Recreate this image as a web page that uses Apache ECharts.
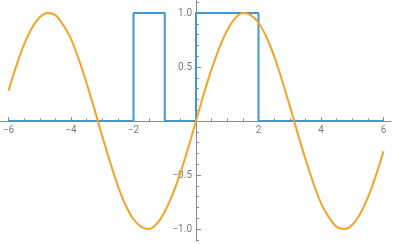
<!DOCTYPE html>
<html><head><meta charset="utf-8">
<script src="https://cdn.jsdelivr.net/npm/echarts@6/dist/echarts.min.js"></script>
<style>html,body{margin:0;padding:0;background:#fff}#c{width:393px;height:244px}</style>
</head><body><div id="c"></div>
<script>
// sine curve samples (x, y)
const sineX = [-6,-5.75,-5.5,-5.25,-5,-4.75,-4.5,-4.25,-4,-3.75,-3.5,-3.25,-3,-2.75,-2.5,-2.25,-2,-1.75,-1.5,-1.25,-1,-0.75,-0.5,-0.25,0,0.25,0.5,0.75,1,1.25,1.5,1.75,2,2.25,2.5,2.75,3,3.25,3.5,3.75,4,4.25,4.5,4.75,5,5.25,5.5,5.75,6];
const sineY = [0.28,0.51,0.71,0.86,0.96,1.00,0.98,0.89,0.76,0.57,0.35,0.11,-0.14,-0.38,-0.60,-0.78,-0.91,-0.98,-1.00,-0.95,-0.84,-0.68,-0.48,-0.25,0,0.25,0.48,0.68,0.84,0.95,1.00,0.98,0.91,0.78,0.60,0.38,0.14,-0.11,-0.35,-0.57,-0.76,-0.89,-0.98,-1.00,-0.96,-0.86,-0.71,-0.51,-0.28];
// step function vertices
const stepX = [-6,-2,-2,-1,-1,0,0,2,2,6];
const stepY = [0,0,1,1,0,0,1,1,0,0];
// ticks
const xLabels = [-6,-4,-2,2,4,6];
const xMinor = [-6,-5.5,-5,-4.5,-4,-3.5,-3,-2.5,-2,-1.5,-1,-0.5,0.5,1,1.5,2,2.5,3,3.5,4,4.5,5,5.5,6];
const yLabels = [-1,-0.5,0.5,1];
const yMinor = [-1.1,-1,-0.9,-0.8,-0.7,-0.6,-0.5,-0.4,-0.3,-0.2,-0.1,0.1,0.2,0.3,0.4,0.5,0.6,0.7,0.8,0.9,1,1.1];

const fmtY = v => (v < 0 ? '\u2212' : '') + Math.abs(v).toFixed(1);
const fmtX = v => (v < 0 ? '\u2212' : '') + Math.abs(v);

const axisColor = '#8a8a8a';
const labelStyle = {color: '#7a7a7a', fontSize: 10, fontFamily: 'Roboto, sans-serif'};
const XMIN = -6.272, XMAX = 6.24, YMIN = -1.1111, YMAX = 1.1204;
const X_OFF = -120, Y_OFF = -196;

const chart = echarts.init(document.getElementById('c'), null, {renderer: 'canvas'});
chart.setOption({
  animation: false,
  grid: {left: 0, right: 2, top: 0, bottom: 3, containLabel: false, outerBoundsMode: 'none'},
  xAxis: [
    {type: 'value', position: 'bottom', offset: X_OFF, min: XMIN, max: XMAX, splitLine: {show: false},
     axisLine: {onZero: false, lineStyle: {color: axisColor, width: 1}},
     axisTick: {inside: true, length: 4, customValues: xLabels, lineStyle: {color: axisColor}},
     axisLabel: {customValues: xLabels, formatter: fmtX, margin: 4, ...labelStyle}},
    {type: 'value', position: 'bottom', offset: X_OFF, min: XMIN, max: XMAX, splitLine: {show: false},
     axisLine: {show: false, onZero: false},
     axisTick: {inside: true, length: 2.5, customValues: xMinor, lineStyle: {color: axisColor}},
     axisLabel: {show: false}}
  ],
  yAxis: [
    {type: 'value', position: 'left', offset: Y_OFF, min: YMIN, max: YMAX, splitLine: {show: false},
     axisLine: {onZero: false, lineStyle: {color: axisColor, width: 1}},
     axisTick: {inside: true, length: 5, customValues: yLabels, lineStyle: {color: axisColor}},
     axisLabel: {customValues: yLabels, formatter: fmtY, margin: 4, ...labelStyle}},
    {type: 'value', position: 'left', offset: Y_OFF, min: YMIN, max: YMAX, splitLine: {show: false},
     axisLine: {show: false, onZero: false},
     axisTick: {inside: true, length: 3, customValues: yMinor, lineStyle: {color: axisColor}},
     axisLabel: {show: false}}
  ],
  series: [
    {type: 'line', xAxisIndex: 0, yAxisIndex: 0, data: stepX.map((x, i) => [x, stepY[i]]),
     showSymbol: false, lineStyle: {color: '#3c99d3', width: 2}, z: 3},
    {type: 'line', xAxisIndex: 0, yAxisIndex: 0, data: sineX.map((x, i) => [x, sineY[i]]),
     smooth: 0.3, showSymbol: false, lineStyle: {color: '#f5a229', width: 2}, z: 4}
  ]
});
</script></body></html>
